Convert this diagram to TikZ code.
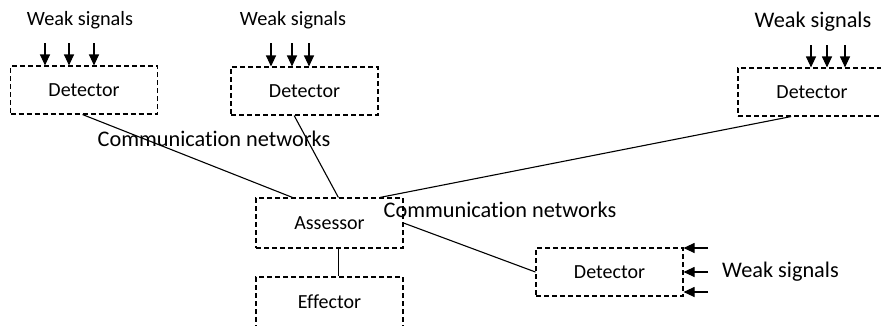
\documentclass[tikz,border=0pt]{standalone}
\usepackage{fontspec}
\setmainfont[Ligatures=NoCommon]{Carlito}
\usetikzlibrary{arrows.meta,calc}
\tikzset{
  box/.style={draw, dash pattern=on 5pt off 3pt, line width=1.1pt, minimum width=147pt, minimum height=48pt, inner sep=0pt, font=\fontsize{20}{24}\selectfont},
  small/.style={font=\fontsize{20.3}{24}\selectfont, inner sep=0pt},
  big/.style={font=\fontsize{22.3}{26}\selectfont, inner sep=0pt},
  sig/.style={-{Triangle[length=11pt,width=10pt]}, line width=1.1pt},
  conn/.style={line width=1.1pt}
}
\begin{document}
\begin{tikzpicture}[x=1pt,y=-1pt]
\useasboundingbox (0,0) rectangle (881,325);
% boxes
\node[box] (d1) at (84,90) {Detector};
\node[box] (d2) at (304.5,91) {Detector};
\node[box, minimum width=148pt] (d3) at (812,92) {Detector};
\node[box, minimum height=50pt] (as) at (329.5,223) {Assessor};
\node[box, minimum height=50pt] (ef) at (329.5,302) {Effector};
\node[box] (d4) at (609.5,272) {Detector};
% labels
\node[small] (w1) at (80,20) {Weak signals};
\node[small] (w2) at (293,20) {Weak signals};
\node[big] (w3) at (813,22) {Weak signals};
\node[big, anchor=west] (w4) at (722,272) {Weak signals};
\node[big] (c1) at (214,139) {Communication networks};
\node[big] (c2) at (500,210) {Communication networks};
% signal arrows
\coordinate (a11) at (45,43); \coordinate (a12) at (69,43); \coordinate (a13) at (94,43);
\draw[sig] (a11) -- (a11 |- d1.north);
\draw[sig] (a12) -- (a12 |- d1.north);
\draw[sig] (a13) -- (a13 |- d1.north);
\coordinate (a21) at (271,43); \coordinate (a22) at (292,43); \coordinate (a23) at (309,43);
\draw[sig] (a21) -- (a21 |- d2.north);
\draw[sig] (a22) -- (a22 |- d2.north);
\draw[sig] (a23) -- (a23 |- d2.north);
\coordinate (a31) at (811,45); \coordinate (a32) at (827,45); \coordinate (a33) at (845,45);
\draw[sig] (a31) -- (a31 |- d3.north);
\draw[sig] (a32) -- (a32 |- d3.north);
\draw[sig] (a33) -- (a33 |- d3.north);
\coordinate (a41) at (708,248); \coordinate (a42) at (708,272); \coordinate (a43) at (708,292);
\draw[sig] (a41) -- (a41 -| d4.east);
\draw[sig] (a42) -- (a42 -| d4.east);
\draw[sig] (a43) -- (a43 -| d4.east);
% connectors
\draw[conn] ($(d1.south west)!0.49!(d1.south east)$) -- ($(as.north west)!0.25!(as.north east)$);
\draw[conn] ($(d2.south west)!0.43!(d2.south east)$) -- ($(as.north west)!0.56!(as.north east)$);
\draw[conn] ($(d3.south west)!0.36!(d3.south east)$) -- ($(as.north west)!0.84!(as.north east)$);
\draw[conn] (as.east) -- (d4.west);
\draw[conn] ($(as.south west)!0.56!(as.south east)$) -- ($(ef.north west)!0.56!(ef.north east)$);
\end{tikzpicture}
\end{document}
